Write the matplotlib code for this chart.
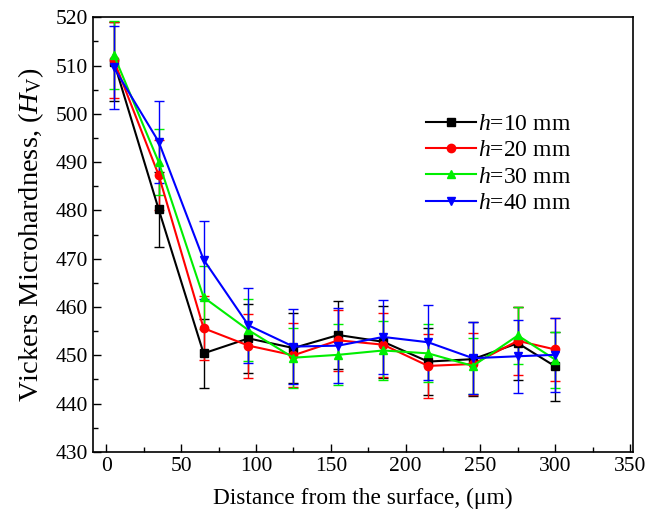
import matplotlib
matplotlib.use('Agg')
import matplotlib.pyplot as plt
import numpy as np

plt.rcParams['font.family'] = ['Liberation Serif', 'DejaVu Serif']
plt.rcParams['mathtext.fontset'] = 'custom'
plt.rcParams['mathtext.rm'] = 'Liberation Serif'
plt.rcParams['mathtext.it'] = 'Liberation Serif:italic'

distance = [5, 35, 65, 95, 125, 155, 185, 215, 245, 275, 300]

hv_10 = [510.8, 480.2, 450.4, 453.5, 451.5, 454.2, 452.8, 448.7, 449.2, 452.5, 447.7]
err_10 = [8.2, 7.8, 7.1, 7.1, 7.3, 7.0, 7.4, 7.0, 7.7, 7.6, 7.2]

hv_20 = [511.1, 487.3, 455.6, 452.0, 450.0, 453.1, 452.2, 447.8, 448.2, 453.0, 451.2]
err_20 = [7.9, 7.3, 6.6, 6.6, 6.6, 6.3, 6.6, 6.6, 6.5, 7.0, 6.6]

hv_30 = [512.2, 490.0, 462.0, 455.2, 449.5, 450.1, 451.0, 450.4, 447.8, 454.1, 449.1]
err_30 = [7.1, 6.8, 6.5, 6.4, 6.2, 6.3, 6.2, 6.0, 5.8, 6.0, 5.8]

hv_40 = [509.6, 494.2, 469.8, 456.2, 451.8, 452.0, 453.8, 452.7, 449.4, 449.8, 450.1]
err_40 = [8.6, 8.5, 8.1, 7.8, 7.7, 7.7, 7.7, 7.8, 7.5, 7.6, 7.6]

labels = ['$h$=10 mm', '$h$=20 mm', '$h$=30 mm', '$h$=40 mm']
series = [
    (hv_10, err_10, 'black', 's'),
    (hv_20, err_20, 'red', 'o'),
    (hv_30, err_30, '#00ee00', '^'),
    (hv_40, err_40, 'blue', 'v'),
]

fig = plt.figure(figsize=(6.54, 5.23), dpi=100)
ax = fig.add_axes([0.142, 0.136, 0.826, 0.831])

lines = []
for hv, err, c, m in series:
    cont = ax.errorbar(distance, hv, yerr=err, color=c, marker=m, markersize=6,
                       linewidth=1.5, elinewidth=1.0, capsize=3.5, capthick=1.0)
    lines.append(cont[0])

ax.set_xlim(-9, 352)
ax.set_ylim(430, 520)
ax.set_xticks(np.arange(0, 351, 50))
ax.set_xticks(np.arange(25, 351, 50), minor=True)
ax.set_yticks(np.arange(430, 521, 10))
ax.set_yticks(np.arange(435, 520, 10), minor=True)
ax.tick_params(which='both', direction='in', top=False, right=False, labelsize=15.5)
ax.tick_params(which='major', length=6, width=1)
ax.tick_params(which='minor', length=3.5, width=1)
for s in ax.spines.values():
    s.set_linewidth(1.2)

ax.set_xlabel('Distance from the surface, (\u03bcm)', fontsize=16.8, labelpad=9)
ax.set_ylabel('Vickers Microhardness, ($H_\\mathrm{V}$)', fontsize=20.5, labelpad=7)

ax.legend(lines, labels, loc='upper left', bbox_to_anchor=(0.6, 0.80),
          frameon=False, fontsize=17, handlelength=2.1, labelspacing=0.2,
          handletextpad=0.1, borderaxespad=0)

fig.savefig('out.png', dpi=100)
